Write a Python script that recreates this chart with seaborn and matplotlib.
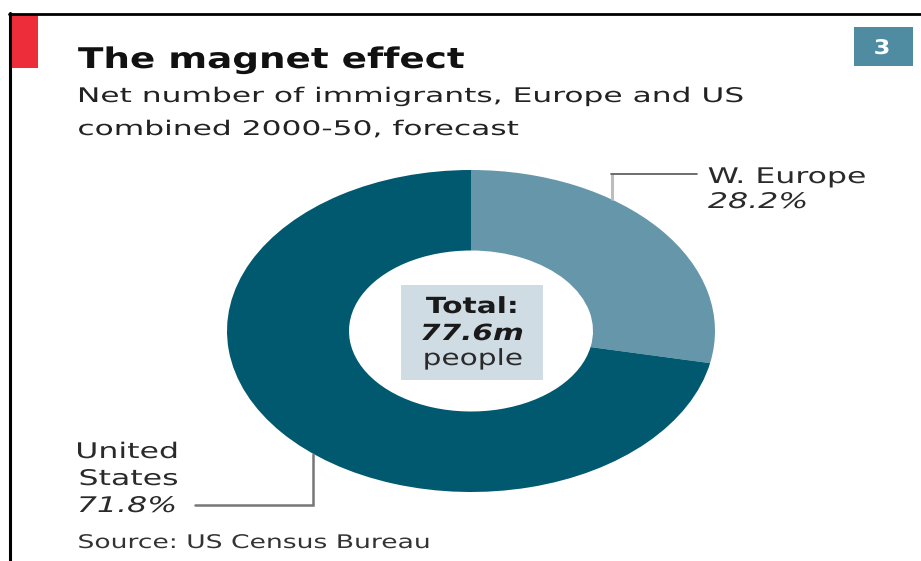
import numpy as np
import matplotlib
matplotlib.use("Agg")
import matplotlib.pyplot as plt
import seaborn as sns
from matplotlib.patheffects import AbstractPathEffect
from matplotlib.transforms import Affine2D
from matplotlib.patches import Rectangle
from matplotlib.lines import Line2D

# ---------------- data ----------------
regions = ["W. Europe", "United States"]
shares = [28.2, 71.8]
share_labels = ["28.2%", "71.8%"]
total_lines = ["Total:", "77.6m", "people"]
title = "The magnet effect"
subtitle = ["Net number of immigrants, Europe and US", "combined 2000-50, forecast"]
source = "Source: US Census Bureau"
badge = "3"

# ---------------- style ----------------
sns.set_theme(style="white")
plt.rcParams["font.family"] = ["DejaVu Sans"]

LIGHT = "#6596aa"
DARK = "#00596f"
RED = "#ee2d3a"
BADGE = "#4f8ba1"
BOXC = "#cfdce4"

W, H = 921, 561
fig = plt.figure(figsize=(W / 100, H / 100), dpi=100)
fig.patch.set_facecolor("white")


def fx(x):
    return x / W


def fy(y):
    return 1 - y / H


class HStretch(AbstractPathEffect):
    """Widen glyphs horizontally (the source graphic is stretched)."""

    def __init__(self, sx, anchor="left"):
        super().__init__()
        self.sx = sx
        self.anchor = anchor

    def draw_path(self, renderer, gc, tpath, affine, rgbFace=None):
        ext = tpath.get_extents(affine)
        if self.anchor == "left":
            x0 = ext.x0
        elif self.anchor == "right":
            x0 = ext.x1
        else:
            x0 = 0.5 * (ext.x0 + ext.x1)
        t = affine + Affine2D().translate(-x0, 0).scale(self.sx, 1).translate(x0, 0)
        renderer.draw_path(gc, tpath, t, rgbFace)


# ---------------- donut ----------------
cx, cy, rx, ry = 471, 331, 244, 161
ax = fig.add_axes([0, 0, 1, 1])
ax.pie(shares, startangle=90, counterclock=False, colors=[LIGHT, DARK],
       radius=1, wedgeprops=dict(width=0.5, linewidth=0))
ax.set_aspect("auto")
ax.set_xlim(-cx / rx, (W - cx) / rx)
ax.set_ylim(-(H - cy) / ry, cy / ry)
ax.axis("off")


def dx(x):
    return (x - cx) / rx


def dy(y):
    return (cy - y) / ry


# leader lines
xe = dx(612)
ax.plot([xe, xe], [np.sqrt(1 - xe ** 2), dy(174)], color="#bdbdbd", lw=2.2,
        solid_capstyle="butt")
ax.plot([xe - 0.004, dx(697)], [dy(174), dy(174)], color="#555555", lw=1.2)
xu = dx(313)
ax.plot([xu, xu, dx(195)], [-np.sqrt(1 - xu ** 2), dy(505), dy(505)],
        color="#777777", lw=1.8, solid_joinstyle="miter")

# ---------------- frame / decorations ----------------
fig.add_artist(Line2D([fx(9), 1], [fy(13.5), fy(13.5)], transform=fig.transFigure,
                      color="black", lw=2.0))
fig.add_artist(Line2D([fx(10), fx(10)], [fy(12.5), 0], transform=fig.transFigure,
                      color="black", lw=2.2))
fig.add_artist(Rectangle((fx(12), fy(68)), fx(38) - fx(12), fy(14.5) - fy(68),
                         transform=fig.transFigure, color=RED, lw=0))
fig.add_artist(Rectangle((fx(854), fy(66)), fx(913) - fx(854), fy(27) - fy(66),
                         transform=fig.transFigure, color=BADGE, lw=0))
fig.add_artist(Rectangle((fx(401), fy(380)), fx(543) - fx(401), fy(285) - fy(380),
                         transform=fig.transFigure, color=BOXC, lw=0, zorder=2))

renderer = fig.canvas.get_renderer()


def put(s, x, y, size, ha="left", weight="normal", style="normal", color="#222222",
        width=None, sx=None, va="baseline"):
    t = fig.text(fx(x), fy(y), s, fontsize=size, ha=ha, va=va, fontweight=weight,
                 fontstyle=style, color=color, zorder=5)
    if width is not None:
        bb = t.get_window_extent(renderer=renderer)
        sx = width / bb.width
    if sx is not None:
        anchor = {"left": "left", "right": "right", "center": "center"}[ha]
        t.set_path_effects([HStretch(sx, anchor)])
    return t, sx


# title & subtitle
put(title, 78, 68, 20.5, weight="bold", color="#111111", width=387)
_, s_sub = put(subtitle[0], 78, 102, 14.5, color="#222222", width=670)
put(subtitle[1], 78, 135, 14.5, color="#222222", sx=s_sub)

# badge
put(badge, 882, 54, 14.5, ha="center", weight="bold", color="white", sx=1.2)

# W. Europe label
_, s_lab = put(regions[0], 708, 183, 15.5, color="#2a2a2a", width=159)
put(share_labels[0], 708, 208, 15.5, style="italic", color="#2a2a2a", sx=s_lab)

# United States label (right aligned)
us_words = regions[1].split(" ")
put(us_words[0], 178, 458, 15.5, ha="right", color="#2a2a2a", sx=s_lab)
put(us_words[1], 178, 485, 15.5, ha="right", color="#2a2a2a", sx=s_lab)
put(share_labels[1], 176, 512, 15.5, ha="right", style="italic", color="#2a2a2a",
    sx=s_lab)

# centre box
_, s_tot = put(total_lines[0], 472, 313, 16, ha="center", weight="bold",
               color="#1a1a1a", width=93)
put(total_lines[1], 472, 340, 16, ha="center", weight="bold", style="italic",
    color="#1a1a1a", sx=s_tot)
put(total_lines[2], 473, 365, 16, ha="center", color="#2a2a2a", sx=s_tot)

# source
put(source, 78, 548, 13.5, color="#333333", width=354)

fig.savefig("out.png", dpi=100, facecolor="white")
